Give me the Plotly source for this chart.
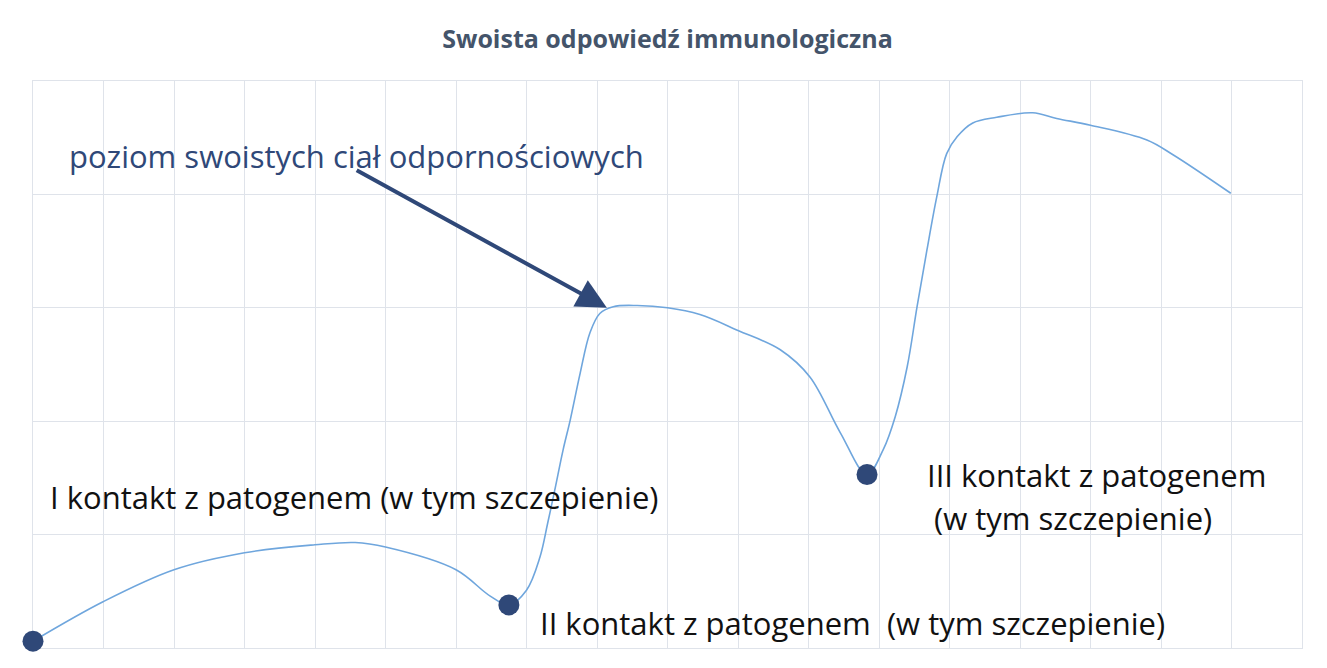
import plotly.graph_objects as go

# Curve of specific antibody level (x in grid units, y in grid units)
curve_x = [0, 1, 2, 3, 4, 4.57, 5, 6, 6.48, 6.75, 7.0, 7.19, 7.3, 7.4, 7.52, 7.62, 7.76, 7.9, 8.04, 8.23, 8.57,
           9.0, 9.46, 10.0, 10.6, 11.02, 11.45, 11.83,
           12.06, 12.23, 12.4, 12.54, 12.68, 12.82, 12.96, 13.11, 13.33, 13.67, 14.18, 14.52, 15.0, 15.8, 16.17, 16.99]
curve_y = [0.06, 0.41, 0.69, 0.84, 0.91, 0.93, 0.89, 0.69, 0.46, 0.38, 0.51, 0.80, 1.10, 1.39, 1.75, 2.01, 2.42, 2.78, 2.95, 3.01, 3.02,
           3.0, 2.94, 2.80, 2.63, 2.39, 1.90, 1.53,
           1.75, 2.04, 2.48, 3.01, 3.51, 3.98, 4.36, 4.51, 4.63, 4.68, 4.72, 4.67, 4.61, 4.48, 4.35, 4.01]

contact_x = [0, 6.75, 11.83]
contact_y = [0.06, 0.38, 1.53]

title = "Swoista odpowiedź immunologiczna"
label_level = "poziom swoistych ciał odpornościowych"
label_1 = "I kontakt z patogenem (w tym szczepienie)"
label_2 = "II kontakt z patogenem  (w tym szczepienie)"
label_3a = "III kontakt z patogenem"
label_3b = "(w tym szczepienie)"

fig = go.Figure()
fig.add_trace(go.Scatter(x=curve_x, y=curve_y, mode="lines",
                         line=dict(color="#6fa6dd", width=1.6, shape="spline", smoothing=1.0),
                         hoverinfo="skip", showlegend=False))
fig.add_trace(go.Scatter(x=contact_x, y=contact_y, mode="markers", cliponaxis=False,
                         marker=dict(color="#2f4878", size=21),
                         hoverinfo="skip", showlegend=False))

font_family = "Open Sans, Noto Sans, sans-serif"
fig.add_annotation(x=8.14, y=3.0, ax=4.57, ay=4.22, xref="x", yref="y", axref="x", ayref="y",
                   text="", showarrow=True, arrowhead=2, arrowsize=1.5, arrowwidth=4,
                   arrowcolor="#2f4878", standoff=0)
fig.add_annotation(x=0.48, y=4.34, xref="x", yref="y", text=label_level, showarrow=False,
                   xanchor="left", yanchor="middle",
                   font=dict(family=font_family, size=31, color="#2f4878"))
fig.add_annotation(x=0.21, y=1.33, xref="x", yref="y", text=label_1, showarrow=False,
                   xanchor="left", yanchor="middle",
                   font=dict(family=font_family, size=31, color="#111111"))
fig.add_annotation(x=7.16, y=0.22, xref="x", yref="y", text=label_2, showarrow=False,
                   xanchor="left", yanchor="middle",
                   font=dict(family=font_family, size=31, color="#111111"))
fig.add_annotation(x=12.65, y=1.53, xref="x", yref="y", text=label_3a, showarrow=False,
                   xanchor="left", yanchor="middle",
                   font=dict(family=font_family, size=31, color="#111111"))
fig.add_annotation(x=12.75, y=1.15, xref="x", yref="y", text=label_3b, showarrow=False,
                   xanchor="left", yanchor="middle",
                   font=dict(family=font_family, size=31, color="#111111"))

fig.update_layout(
    width=1319, height=660,
    margin=dict(l=25, r=25, t=73, b=20),
    paper_bgcolor="white", plot_bgcolor="white",
    title=dict(text=f"<b>{title}</b>", x=0.5, xanchor="center", y=0.952, yanchor="middle",
               font=dict(family=font_family, size=25, color="#44546a")),
    xaxis=dict(range=[0, 18], dtick=1, showgrid=True, gridcolor="#dfe3ea", gridwidth=1, layer="below traces",
               showticklabels=False, zeroline=False, showline=True, linecolor="#dfe3ea", mirror=True, ticks=""),
    yaxis=dict(range=[0, 5], dtick=1, showgrid=True, gridcolor="#dfe3ea", gridwidth=1, layer="below traces",
               showticklabels=False, zeroline=False, showline=True, linecolor="#dfe3ea", mirror=True, ticks=""),
)

fig.write_html("out.html")
